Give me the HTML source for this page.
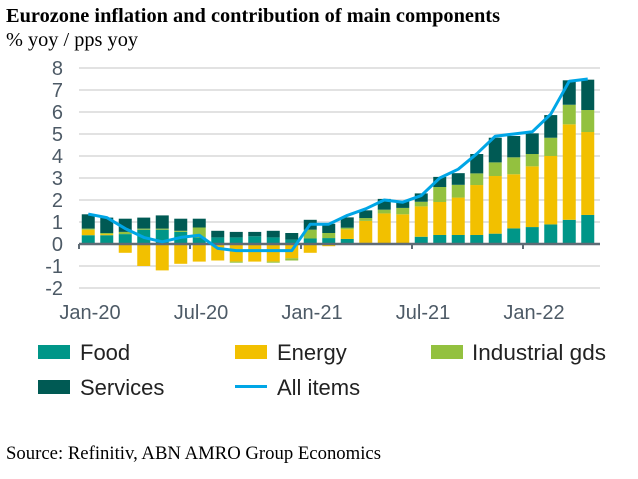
<!DOCTYPE html>
<html><head><meta charset="utf-8"><style>
body{margin:0;background:#fff;}
svg{display:block;}
</style></head><body>
<svg id="c" width="638" height="479" xmlns="http://www.w3.org/2000/svg">
<text x="6" y="22" font-family="Liberation Serif, serif" font-weight="bold" font-size="20" textLength="494" lengthAdjust="spacingAndGlyphs" fill="#000">Eurozone inflation and contribution of main components</text>
<text x="6" y="46" font-family="Liberation Serif, serif" font-size="19.5" textLength="132" lengthAdjust="spacingAndGlyphs" fill="#000">% yoy / pps yoy</text>
<g id="grid"></g><g id="bars"></g><g id="axis"></g><g id="line"></g>
<g id="legend" font-family="Liberation Sans, sans-serif" font-size="22" fill="#222">
<rect x="38" y="345" width="32" height="14" fill="#009688"/>
<text x="80" y="360">Food</text>
<rect x="235" y="345" width="32" height="14" fill="#f2c000"/>
<text x="277" y="360">Energy</text>
<rect x="431" y="345" width="32" height="14" fill="#93c13f"/>
<text x="472" y="360" textLength="134" lengthAdjust="spacingAndGlyphs">Industrial gds</text>
<rect x="38" y="380" width="32" height="14" fill="#005a54"/>
<text x="80" y="395">Services</text>
<rect x="235" y="385" width="32" height="3" fill="#00a6e6"/>
<text x="277" y="395">All items</text>
</g>
<text x="6" y="459" font-family="Liberation Serif, serif" font-size="18.5" textLength="375" lengthAdjust="spacingAndGlyphs" fill="#000">Source: Refinitiv, ABN AMRO Group Economics</text>
</svg>
<script>
const food=[.4,.4,.45,.65,.65,.55,.3,.3,.3,.35,.3,.2,.25,.27,.23,.05,.04,.03,.33,.41,.41,.41,.47,.71,.77,.89,1.1,1.32];
const energy=[.25,.05,-.4,-1.0,-1.2,-.9,-.8,-.75,-.8,-.8,-.8,-.65,-.4,-.1,.44,1.0,1.35,1.32,1.38,1.5,1.7,2.27,2.62,2.46,2.76,3.11,4.34,3.77];
const industrial=[.05,.05,.1,.05,.05,.05,.45,0,-.05,0,-.05,-.1,.4,.23,.07,.13,.17,.29,.21,.68,.58,.53,.62,.77,.56,.83,.89,1.0];
const services=[.65,.7,.6,.5,.6,.55,.4,.3,.25,.2,.3,.3,.45,.42,.47,.35,.49,.3,.38,.46,.53,.88,1.12,.97,.94,1.03,1.11,1.38];
const allItems=[1.36,1.2,.7,.3,.1,.3,.4,-.2,-.3,-.3,-.3,-.3,.9,.9,1.3,1.6,2.0,1.9,2.2,3.0,3.4,4.1,4.9,5.0,5.1,5.9,7.4,7.5];
const yTicks=[-2,-1,0,1,2,3,4,5,6,7,8];
const xLabels=["Jan-20","Jul-20","Jan-21","Jul-21","Jan-22"];
const NS="http://www.w3.org/2000/svg";
const X0=79,STEP=18.5,Y0=244,UNIT=22;
const xc=i=>X0+STEP*(i+0.5);
const y=v=>Y0-v*UNIT;
function mk(t,a,p){const e=document.createElementNS(NS,t);for(const k in a)e.setAttribute(k,a[k]);document.getElementById(p).appendChild(e);return e;}
yTicks.forEach(v=>{
 if(v!==0){const g=mk('line',{x1:X0,x2:600,y1:y(v),y2:y(v),stroke:'#d9d9d9','stroke-width':1.5},'grid');
 
 }
 const t=mk('text',{x:63,y:y(v)+7,'text-anchor':'end','font-family':'Liberation Sans, sans-serif','font-size':20,fill:'#4d5a66'},'axis');
 t.textContent=v;
 
 
});
const cols=['#009688','#f2c000','#93c13f','#005a54'];
const series=[food,energy,industrial,services];
for(let i=0;i<food.length;i++){
 let pos=0,neg=0;
 series.forEach((s,k)=>{
  const v=s[i];let top,bot;
  if(v>=0){bot=pos;pos+=v;top=pos;}else{top=neg;neg+=v;bot=neg;}
  const r=mk('rect',{x:xc(i)-6.5,width:13,y:y(top),height:Math.max(0,y(bot)-y(top)),fill:cols[k]},'bars');
  
  
 });
}
const ax=mk('line',{x1:X0,x2:600,y1:Y0,y2:Y0,stroke:'#5f6b75','stroke-width':2.5},'axis');


xLabels.forEach((l,j)=>{
 const tx=X0+j*6*STEP;
 const tk=mk('line',{x1:tx,x2:tx,y1:Y0,y2:Y0+5,stroke:'#5f6b75','stroke-width':2},'axis');
 
 
 const t=mk('text',{x:90+j*111,y:319,'text-anchor':'middle','font-family':'Liberation Sans, sans-serif','font-size':20,fill:'#4d5a66'},'axis');
 t.textContent=l;
 
 
});
const pl=mk('polyline',{points:allItems.map((v,i)=>xc(i)+','+y(v)).join(' '),fill:'none',stroke:'#00a6e6','stroke-width':3,'stroke-linejoin':'round'},'line');


</script>
</body></html>
